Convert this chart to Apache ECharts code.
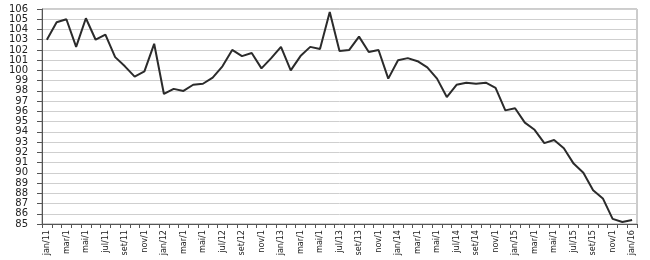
<!DOCTYPE html>
<html>
<head>
<meta charset="utf-8">
<script src="https://cdn.jsdelivr.net/npm/echarts@6/dist/echarts.min.js"></script>
<style>html,body{margin:0;padding:0;background:#fff}#c{width:650px;height:260px}</style>
</head>
<body>
<div id="c"></div>
<script>
var months = ['jan','fev','mar','abr','mai','jun','jul','ago','set','out','nov','dez'];
var categories = [];
for (var y = 11; y <= 16; y++) {
  for (var m = 0; m < 12; m++) {
    if (y === 16 && m > 0) break;
    categories.push(months[m] + '/' + y);
  }
}
var tickLabels = ['jan/11','mar/1','mai/1','jul/11','set/11','nov/1',
  'jan/12','mar/1','mai/1','jul/12','set/12','nov/1',
  'jan/13','mar/1','mai/1','jul/13','set/13','nov/1',
  'jan/14','mar/1','mai/1','jul/14','set/14','nov/1',
  'jan/15','mar/1','mai/1','jul/15','set/15','nov/1','jan/16'];
var values = [
  103.0,104.7,105.0,102.3,105.1,103.0,103.5,101.3,100.4,99.4,99.9,102.6,
  97.7,98.2,98.0,98.6,98.7,99.3,100.4,102.0,101.4,101.7,100.2,101.2,
  102.3,100.0,101.4,102.3,102.1,105.7,101.9,102.0,103.3,101.8,102.0,99.2,
  101.0,101.2,100.9,100.3,99.2,97.4,98.6,98.8,98.7,98.8,98.3,96.1,
  96.3,94.9,94.2,92.9,93.2,92.4,90.9,90.0,88.3,87.5,85.5,85.2,85.4
];
var chart = echarts.init(document.getElementById('c'), null, {renderer:'canvas'});
chart.setOption({
  animation: false,
  grid: {left: 42, right: 13, top: 9, bottom: 36, containLabel: false,
         show: true, borderColor: '#9a9a9a', borderWidth: 1},
  xAxis: {
    type: 'category', data: categories, boundaryGap: true,
    axisLine: {lineStyle: {color: '#555', width: 1}},
    axisTick: {show: true, interval: 0, length: 4, lineStyle: {color: '#555'}},
    axisLabel: {interval: 1, rotate: 90, margin: 6, color: '#222', fontSize: 9,
      fontFamily: "'Liberation Sans Narrow','DejaVu Sans Condensed','Liberation Sans',sans-serif",
      formatter: function (v, i) { return tickLabels[i / 2] || ''; }},
    splitLine: {show: false}
  },
  yAxis: {
    type: 'value', min: 85, max: 106, interval: 1,
    axisLine: {show: true, lineStyle: {color: '#555', width: 1}},
    axisTick: {show: true, length: 5, lineStyle: {color: '#555'}},
    axisLabel: {margin: 14, color: '#222', fontSize: 10, fontFamily: "'DejaVu Sans',sans-serif"},
    splitLine: {show: true, lineStyle: {color: '#cfcfcf', width: 1}}
  },
  series: [{
    type: 'line', data: values, showSymbol: false, symbol: 'none',
    lineStyle: {color: '#2b2b2b', width: 2}
  }]
});
</script>
</body>
</html>
